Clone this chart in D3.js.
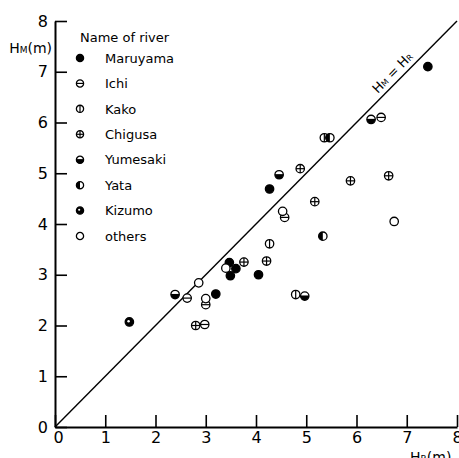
<!DOCTYPE html>
<html>
<head>
<meta charset="utf-8">
<script src="https://cdn.jsdelivr.net/npm/d3@7"></script>
<style>
  html, body { margin: 0; padding: 0; background: #fff; }
  svg { display: block; }
  text { font-family: "DejaVu Sans", sans-serif; fill: #000; }
</style>
</head>
<body>
<svg id="chart" width="459" height="458"></svg>
<script>
// ---- Data ----
const ticks = [0, 1, 2, 3, 4, 5, 6, 7, 8];
const rivers = ["Maruyama", "Ichi", "Kako", "Chigusa", "Yumesaki", "Yata", "Kizumo", "others"];

const maruyamaHR = [7.42, 4.27, 3.47, 3.60, 3.49, 4.05, 3.20];
const maruyamaHM = [7.10, 4.69, 3.24, 3.12, 2.98, 3.00, 2.62];

const ichiHR = [6.49, 4.57, 2.63, 3.00, 2.98];
const ichiHM = [6.10, 4.13, 2.54, 2.41, 2.02];

const kakoHR = [5.36, 4.27, 4.79];
const kakoHM = [5.70, 3.61, 2.61];

const chigusaHR = [6.64, 5.88, 5.17, 4.88, 4.21, 3.76, 2.80];
const chigusaHM = [4.95, 4.85, 4.44, 5.09, 3.27, 3.25, 2.00];

const yumesakiHR = [6.29, 4.46, 2.39, 4.97];
const yumesakiHM = [6.06, 4.97, 2.61, 2.58];

const yataHR = [5.47, 5.33];
const yataHM = [5.70, 3.76];

const kizumoHR = [1.48];
const kizumoHM = [2.07];

const othersHR = [6.75, 4.53, 2.86, 3.40, 3.00];
const othersHM = [4.05, 4.25, 2.84, 3.13, 2.53];

const series = [
  { name: "Maruyama", type: "filled",   xs: maruyamaHR, ys: maruyamaHM },
  { name: "Ichi",     type: "hline",    xs: ichiHR,     ys: ichiHM },
  { name: "Kako",     type: "vline",    xs: kakoHR,     ys: kakoHM },
  { name: "Chigusa",  type: "cross",    xs: chigusaHR,  ys: chigusaHM },
  { name: "Yumesaki", type: "bottom",   xs: yumesakiHR, ys: yumesakiHM },
  { name: "Yata",     type: "left",     xs: yataHR,     ys: yataHM },
  { name: "Kizumo",   type: "dot",      xs: kizumoHR,   ys: kizumoHM },
  { name: "others",   type: "open",     xs: othersHR,   ys: othersHM }
];

// ---- Scales ----
const svg = d3.select("#chart");
const x = d3.scaleLinear().domain([0, 8]).range([55, 457]);
const y = d3.scaleLinear().domain([0, 8]).range([427, 21]);

// ---- Marker drawing ----
function drawMarker(g, type, r) {
  const sw = 1.3;
  if (type === "filled") {
    g.append("circle").attr("r", r).attr("fill", "#000").attr("stroke", "#000").attr("stroke-width", sw);
    return;
  }
  if (type === "dot") {
    g.append("circle").attr("r", r).attr("fill", "#000").attr("stroke", "#000").attr("stroke-width", sw);
    g.append("circle").attr("cx", -0.8).attr("cy", -0.8).attr("r", r * 0.3).attr("fill", "#fff");
    return;
  }
  g.append("circle").attr("r", r).attr("fill", "#fff").attr("stroke", "#000").attr("stroke-width", sw);
  if (type === "hline" || type === "cross") {
    g.append("line").attr("x1", -r).attr("x2", r).attr("y1", 0).attr("y2", 0)
      .attr("stroke", "#000").attr("stroke-width", 1.2);
  }
  if (type === "vline" || type === "cross") {
    g.append("line").attr("y1", -r).attr("y2", r).attr("x1", 0).attr("x2", 0)
      .attr("stroke", "#000").attr("stroke-width", 1.2);
  }
  if (type === "bottom") {
    g.append("path").attr("d", `M${-r},0 A${r},${r} 0 0 0 ${r},0 Z`).attr("fill", "#000");
    g.append("line").attr("x1", -r).attr("x2", r).attr("y1", 0).attr("y2", 0)
      .attr("stroke", "#000").attr("stroke-width", 1.2);
  }
  if (type === "left") {
    g.append("path").attr("d", `M0,${-r} A${r},${r} 0 0 0 0,${r} Z`).attr("fill", "#000");
  }
}

// ---- Axes ----
const yAxis = d3.axisLeft(y).tickValues(ticks).tickSizeInner(-12).tickSizeOuter(0).tickPadding(7)
  .tickFormat(d3.format("d"));
const xAxis = d3.axisBottom(x).tickValues(ticks).tickSizeInner(-12).tickSizeOuter(0).tickPadding(5)
  .tickFormat(d3.format("d"));

const gy = svg.append("g").attr("transform", `translate(${x(0)},0)`).call(yAxis);
const gx = svg.append("g").attr("transform", `translate(0,${y(0)})`).call(xAxis);
[gx, gy].forEach(g => {
  g.select(".domain").attr("stroke", "#000").attr("stroke-width", 2);
  g.selectAll(".tick line").attr("stroke", "#000").attr("stroke-width", 1.6);
  g.selectAll(".tick text").attr("font-family", "DejaVu Sans, sans-serif").attr("font-size", 16)
    .attr("fill", "#000");
});
gx.selectAll(".tick")
  .filter(d => d === 0).select("text").attr("dx", 3);

// ---- Axis labels ----
const yl = svg.append("text").attr("x", 52).attr("y", 53).attr("text-anchor", "end").attr("font-size", 14);
yl.append("tspan").text("H");
yl.append("tspan").attr("font-size", 9).text("M");
yl.append("tspan").text("(m)");

const xl = svg.append("text").attr("x", 410).attr("y", 462).attr("font-size", 14);
xl.append("tspan").text("H");
xl.append("tspan").attr("font-size", 9).text("R");
xl.append("tspan").text("(m)");

// ---- Diagonal line H_M = H_R ----
svg.append("line")
  .attr("x1", x(0)).attr("y1", y(0)).attr("x2", x(8)).attr("y2", y(8))
  .attr("stroke", "#000").attr("stroke-width", 1.4);

const ang = Math.atan2(y(8) - y(0), x(8) - x(0)) * 180 / Math.PI;
const lab = svg.append("text")
  .attr("transform", `translate(${x(6.85)},${y(6.85)}) rotate(${ang}) translate(0,-5)`)
  .attr("text-anchor", "middle").attr("font-size", 13);
lab.append("tspan").text("H");
lab.append("tspan").attr("font-size", 8).text("M");
lab.append("tspan").text(" = H");
lab.append("tspan").attr("font-size", 8).text("R");

// ---- Points ----
series.forEach(s => {
  s.xs.forEach((v, i) => {
    const g = svg.append("g").attr("transform", `translate(${x(v)},${y(s.ys[i])})`);
    drawMarker(g, s.type, 4.2);
  });
});

// ---- Legend ----
svg.append("text").attr("x", 80).attr("y", 42).attr("font-size", 13).text("Name of river");
const legendY = d3.scalePoint().domain(rivers).range([58, 236]);
series.forEach(s => {
  const g = svg.append("g").attr("transform", `translate(80,${legendY(s.name)})`);
  drawMarker(g, s.type, 3.6);
  svg.append("text").attr("x", 105).attr("y", legendY(s.name)).attr("dy", "0.36em")
    .attr("font-size", 13).text(s.name);
});
</script>
</body>
</html>
